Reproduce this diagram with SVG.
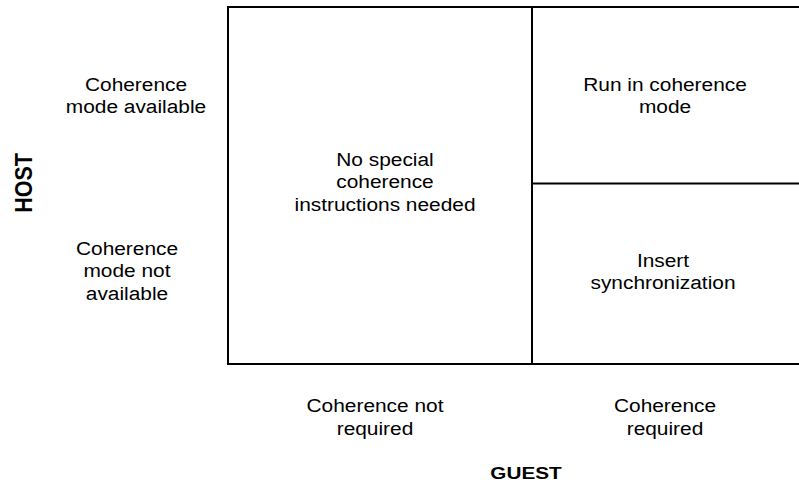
<svg xmlns="http://www.w3.org/2000/svg" width="799" height="484" viewBox="0 0 799 484">
<style>
  .t { font-family: "Liberation Sans", Arial, Helvetica, sans-serif; font-size: 18px; fill: #000; text-anchor: middle; }
  .b { font-family: "Liberation Sans", Arial, Helvetica, sans-serif; font-size: 17px; font-weight: bold; fill: #000; text-anchor: middle; }
  .ln { stroke: #000; stroke-width: 2; fill: none; }
</style>
<rect width="799" height="484" fill="#fff"/>
<g id="connectors">
  <path class="ln" d="M801 7 H228 V364 H801"/>
  <line class="ln" x1="532" y1="7" x2="532" y2="364"/>
  <line class="ln" x1="532" y1="183.5" x2="801" y2="183.5"/>
</g>
<g id="host-available">
  <text class="t" transform="translate(136 0) scale(1.16 1)"><tspan x="0" y="91">Coherence</tspan><tspan x="0" y="113">mode available</tspan></text>
</g>
<g id="host-not-available">
  <text class="t" transform="translate(127 0) scale(1.16 1)"><tspan x="0" y="255">Coherence</tspan><tspan x="0" y="277.5">mode not</tspan><tspan x="0" y="300">available</tspan></text>
</g>
<g id="no-special">
  <text class="t" transform="translate(385 0) scale(1.16 1)"><tspan x="0" y="166.5">No special</tspan><tspan x="0" y="188.5">coherence</tspan><tspan x="0" y="211">instructions needed</tspan></text>
</g>
<g id="run-coherence">
  <text class="t" transform="translate(665 0) scale(1.16 1)"><tspan x="0" y="91">Run in coherence</tspan><tspan x="0" y="113">mode</tspan></text>
</g>
<g id="insert-sync">
  <text class="t" transform="translate(663 0) scale(1.16 1)"><tspan x="0" y="267">Insert</tspan><tspan x="0" y="289.5">synchronization</tspan></text>
</g>
<g id="guest-not-required">
  <text class="t" transform="translate(375 0) scale(1.16 1)"><tspan x="0" y="412.5">Coherence not</tspan><tspan x="0" y="435">required</tspan></text>
</g>
<g id="guest-required">
  <text class="t" transform="translate(665 0) scale(1.16 1)"><tspan x="0" y="412.5">Coherence</tspan><tspan x="0" y="435">required</tspan></text>
</g>
<g id="guest-label">
  <text class="b" transform="translate(526 0) scale(1.22 1)" x="0" y="479">GUEST</text>
</g>
<g id="host-label">
  <text class="b" style="font-size:21.5px" transform="translate(32 183) rotate(-90) scale(1 1.08)" x="0" y="0">HOST</text>
</g>
</svg>
